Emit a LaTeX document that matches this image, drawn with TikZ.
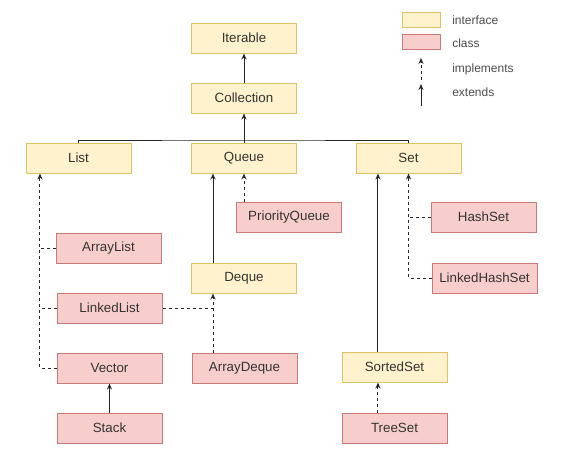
\documentclass[tikz,border=0pt]{standalone}
\usepackage{fontspec}
\setmainfont{Liberation Sans}
\usepackage{tikz}
\usetikzlibrary{arrows.meta}
\definecolor{ifill}{HTML}{FFF2CC}
\definecolor{idraw}{HTML}{E0C266}
\definecolor{cfill}{HTML}{F8CECC}
\definecolor{cdraw}{HTML}{CC7A77}
\definecolor{ink}{HTML}{333333}

\begin{document}
\begin{tikzpicture}[x=0.75pt,y=-0.75pt]
    \tikzstyle interface=[draw=idraw,fill=ifill,line width=0.75pt,minimum width=78.75pt,minimum height=22.5pt,inner sep=0pt,text=ink,font=\fontsize{10pt}{12pt}\selectfont]
    \tikzstyle klass=[interface,draw=cdraw,fill=cfill]
    \tikzstyle extends=[line width=0.75pt,black!85,-{Stealth[length=4.5pt,width=3.8pt]}]
    \tikzstyle implements=[extends,dash pattern=on 2.25pt off 2.25pt]
    \tikzstyle dashline=[line width=0.75pt,black!85,dash pattern=on 2.25pt off 2.25pt]
    \tikzstyle legendtext=[anchor=west,inner sep=0pt,text=black!70,font=\fontsize{9pt}{11pt}\selectfont]
    \useasboundingbox (0,0) rectangle (572,451);
    % interfaces
    \node[interface] (iterable) at (244,38) {Iterable};
    \node[interface] (collection) at (244,98) {Collection};
    \node[interface] (list) at (78.5,158) {List};
    \node[interface] (queue) at (244,158) {Queue};
    \node[interface] (set) at (408.5,158) {Set};
    \node[interface] (deque) at (244,278) {Deque};
    \node[interface] (sortedset) at (394.5,367) {SortedSet};
    % classes
    \node[klass] (priorityqueue) at (289,217) {PriorityQueue};
    \node[klass] (arraylist) at (108.5,248) {ArrayList};
    \node[klass] (linkedlist) at (109.5,308) {LinkedList};
    \node[klass] (vector) at (109.5,368) {Vector};
    \node[klass] (stack) at (109.5,428) {Stack};
    \node[klass] (arraydeque) at (244.5,368) {ArrayDeque};
    \node[klass] (hashset) at (483.5,217) {HashSet};
    \node[klass] (linkedhashset) at (484.5,278) {LinkedHashSet};
    \node[klass] (treeset) at (394.5,428) {TreeSet};
    % entry points
    \coordinate (bus) at (244,140);
    \coordinate (listin) at ([xshift=-28.9pt]list.south);
    \coordinate (dequein) at ([xshift=-23.25pt]deque.south);
    \coordinate (setin) at ([xshift=-22.9pt]set.south);
    % top of the tree
    \draw[extends] (collection) -- (iterable);
    \draw[line width=0.75pt,black!85] (list.north) |- (bus) -| (set.north);
    \draw[extends] (queue) -- (collection);
    % list side
    \draw[implements] (vector.west) -| (listin);
    \draw[dashline] (arraylist.west) -- (arraylist.west -| listin);
    \draw[dashline] (linkedlist.west) -- (linkedlist.west -| listin);
    \draw[extends] (stack) -- (vector);
    % queue side
    \draw[implements] (queue.south |- priorityqueue.north) -- (queue.south);
    \draw[extends] (dequein |- deque.north) -- (dequein |- queue.south);
    \draw[implements] (arraydeque.north -| dequein) -- (dequein);
    \draw[dashline] (linkedlist.east) -- (linkedlist.east -| dequein);
    % set side
    \draw[implements] (linkedhashset.west) -| (set.south);
    \draw[dashline] (hashset.west) -- (hashset.west -| set.south);
    \draw[extends] (sortedset.north -| setin) -- (setin);
    \draw[implements] (treeset.north -| setin) -- (sortedset.south -| setin);
    % legend
    \node[interface,minimum width=28.5pt,minimum height=11.25pt] (leginterface) at (421,19.5) {};
    \node[klass,minimum width=28.5pt,minimum height=11.25pt] (legclass) at (421,41.5) {};
    \node[legendtext] (interfacetext) at (452,20) {interface};
    \node[legendtext] (classtext) at (452,43) {class};
    \node[legendtext] (implementstext) at (452,69) {implements};
    \node[legendtext] (extendstext) at (452,92) {extends};
    \coordinate (implfrom) at (421,80);
    \coordinate (implto) at (421,58);
    \coordinate (extfrom) at (421,106);
    \coordinate (extto) at (421,84);
    \draw[implements] (implfrom) -- (implto);
    \draw[extends] (extfrom) -- (extto);
\end{tikzpicture}
\end{document}
